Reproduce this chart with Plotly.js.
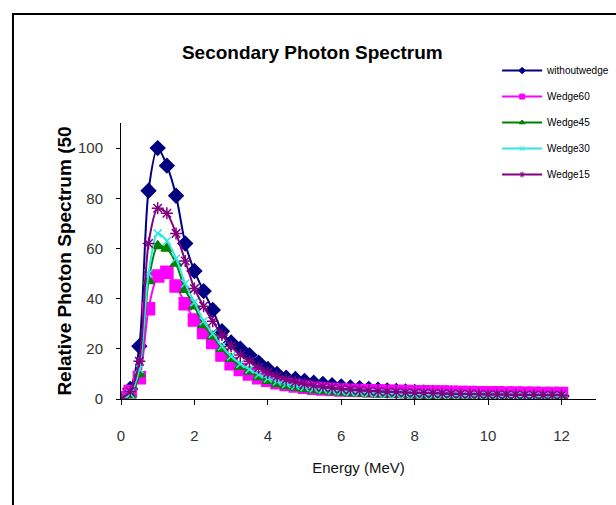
<!DOCTYPE html>
<html>
<head>
<meta charset="utf-8">
<script src="https://cdn.plot.ly/plotly-3.0.1.min.js"></script>
<style>html,body{margin:0;padding:0;background:#fff;}#chart{width:616px;height:505px;}</style>
</head>
<body>
<div id="chart"></div>
<script>
const energy = [0,0.25,0.5,0.75,1,1.25,1.5,1.75,2,2.25,2.5,2.75,3,3.25,3.5,3.75,4,4.25,4.5,4.75,5,5.25,5.5,5.75,6,6.25,6.5,6.75,7,7.25,7.5,7.75,8,8.25,8.5,8.75,9,9.25,9.5,9.75,10,10.25,10.5,10.75,11,11.25,11.5,11.75,12];

const withoutWedge = [0,4,21,83,100,93,81,62,51,43,35.5,27,22.5,20,17.5,14.5,12,10,8.5,8,7.2,6.5,6,5.5,5,4.6,4.3,4,3.7,3.4,3.2,3,2.8,2.6,2.5,2.3,2.2,2.1,2,1.9,1.8,1.7,1.6,1.5,1.5,1.4,1.3,1.2,1.2];
const wedge60 = [0.5,3,8.5,36,49,50.5,45,38,31.5,26.5,22.5,17.5,14,11.8,10,8.5,7.5,6.5,5.8,5.2,4.7,4.3,4,3.8,3.6,3.5,3.4,3.3,3.2,3.1,3,3,2.9,2.9,2.8,2.8,2.7,2.6,2.6,2.5,2.5,2.5,2.4,2.4,2.3,2.3,2.2,2.2,2.2];
const wedge45 = [0,1.5,10,47,61,60,54,43.5,37,29.5,25,20,16,13,11,8.8,7.3,6,5.2,4.6,4,3.6,3.2,2.9,2.6,2.4,2.2,2,1.9,1.8,1.7,1.6,1.5,1.4,1.3,1.3,1.2,1.2,1.1,1.1,1,1,1,0.9,0.9,0.9,0.8,0.8,0.8];
const wedge30 = [0,2,12,50,66,63,56,46,38.5,31,26,21,17,14,11.8,9.8,8.2,7,6,5.3,4.7,4.2,3.8,3.4,3.1,2.8,2.6,2.4,2.2,2.1,2,1.9,1.8,1.7,1.6,1.5,1.5,1.4,1.4,1.3,1.3,1.2,1.2,1.1,1.1,1.1,1,1,1];
const wedge15 = [0,3,15,62,76,74,66,55,44,37,31,25.5,21,17.5,15,12.5,10.5,9,7.8,6.8,6,5.4,4.9,4.5,4.1,3.8,3.5,3.3,3.1,2.9,2.8,2.6,2.5,2.4,2.3,2.2,2.1,2,2,1.9,1.8,1.8,1.7,1.7,1.6,1.6,1.5,1.5,1.5];

const seriesNames = ["withoutwedge","Wedge60","Wedge45","Wedge30","Wedge15"];
const xTicks = [0,2,4,6,8,10,12];
const yTicks = [0,20,40,60,80,100];

const seriesData = [withoutWedge, wedge60, wedge45, wedge30, wedge15];
const colors = ["#000080","#FF00FF","#008000","#33E6E6","#800080"];
const symbols = ["diamond","square","triangle-up","x-thin-open","asterisk-open"];
const sizes = [11,12,10,8,10];

const traces = seriesData.map((y,i)=>({
  type:"scatter", mode:"lines+markers", x:energy, y:y, name:seriesNames[i],
  showlegend:false,
  line:{color:colors[i], width:2, shape:"spline", smoothing:0.8},
  marker:{symbol:symbols[i], size:sizes[i], color:colors[i], line:{color:colors[i], width:1.5}}
}));
// legend-only entries (small markers as in the reference legend)
const legendTraces = seriesNames.map((n,i)=>({
  type:"scatter", mode:"lines+markers", x:[null], y:[null], name:n,
  legendgroup:"g"+i, showlegend:true, hoverinfo:"skip",
  line:{color:colors[i], width:2},
  marker:{symbol:symbols[i], size:5, color:colors[i], line:{color:colors[i], width:1}}
}));

const font = "Liberation Sans Narrow, Arial Narrow, Liberation Sans, Arial, sans-serif";

const layout = {
  width:616, height:505,
  paper_bgcolor:"#fff", plot_bgcolor:"#fff",
  margin:{l:121, r:20, t:123, b:106, autoexpand:false},
  title:{text:"<b>Secondary Photon Spectrum</b>", font:{family:"Liberation Sans, Arial, sans-serif", size:19, color:"#000"},
         x:0.507, xanchor:"center", y:0.897, yanchor:"middle"},
  xaxis:{range:[0,12.94], tickvals:xTicks, ticktext:xTicks.map(String), showgrid:false, zeroline:false,
         showline:true, linecolor:"#000", linewidth:1, ticks:"outside", ticklen:5, tickcolor:"#000",
         ticklabelstandoff:18,
         tickfont:{family:font, size:15, color:"#333"},
         title:{text:"Energy (MeV)", font:{family:"Liberation Sans, Arial, sans-serif", size:15, color:"#111"}, standoff:19}},
  yaxis:{range:[0,110], tickvals:yTicks, ticktext:yTicks.map(String), showgrid:false, zeroline:false,
         showline:true, linecolor:"#000", linewidth:1, ticks:"outside", ticklen:4, tickcolor:"#000",
         ticklabelstandoff:10,
         tickfont:{family:font, size:15, color:"#333"},
         title:{text:"<b>Relative Photon Spectrum (50</b>", font:{family:"Liberation Sans, Arial, sans-serif", size:19, color:"#000"}, standoff:1}},
  legend:{xref:"container", yref:"container", x:0.807, xanchor:"left", y:0.889, yanchor:"top", bgcolor:"rgba(0,0,0,0)",
          font:{family:"Liberation Sans Narrow, Arial Narrow, Liberation Sans, Arial, sans-serif", size:10, color:"#000"},
          tracegroupgap:7, itemwidth:40},
  showlegend:true,
  shapes:[{type:"rect", xref:"paper", yref:"paper", x0:-0.2274, y0:-0.6, x1:1.2, y1:1.395,
           line:{color:"#000", width:2}, fillcolor:"rgba(0,0,0,0)", layer:"below"}]
};

Plotly.newPlot("chart", traces.concat(legendTraces), layout, {displayModeBar:false, staticPlot:true});
</script>
</body>
</html>
